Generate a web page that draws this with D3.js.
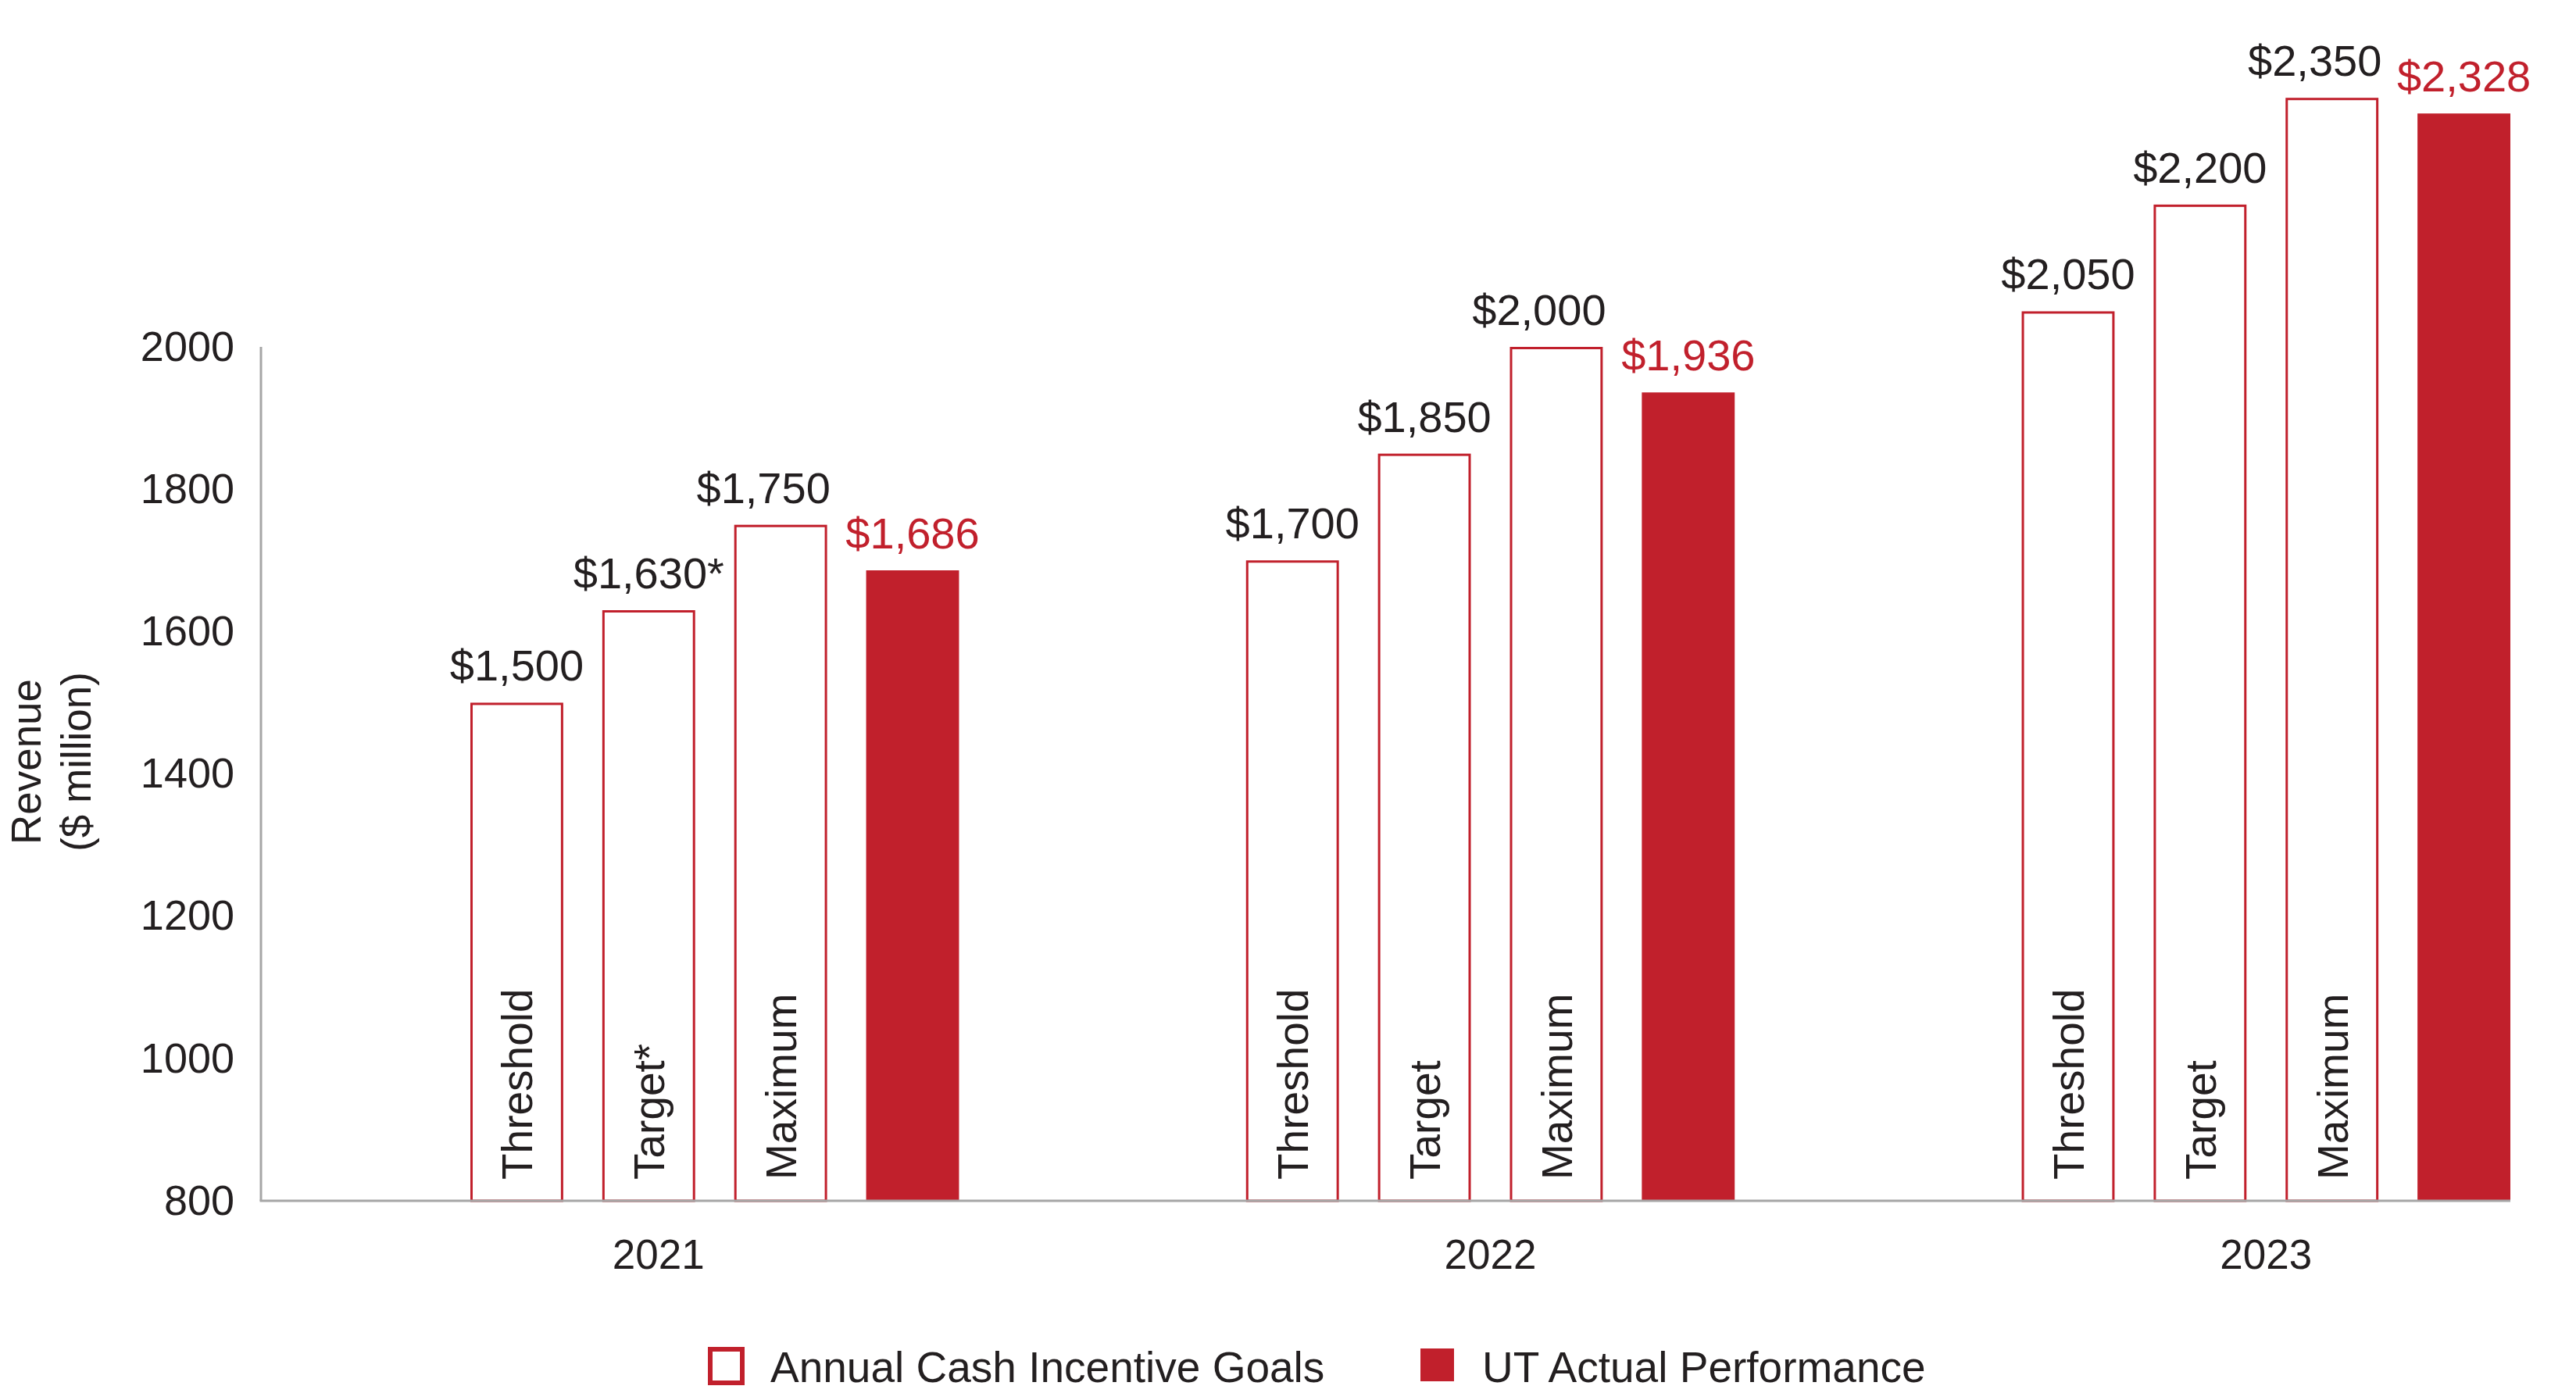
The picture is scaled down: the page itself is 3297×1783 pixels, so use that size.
<!DOCTYPE html>
<html>
<head>
<meta charset="utf-8">
<script src="https://cdn.jsdelivr.net/npm/d3@7"></script>
<style>
  html, body { margin: 0; padding: 0; background: #ffffff; }
  svg { display: block; }
  text { font-family: "Liberation Sans", Arial, Helvetica, sans-serif; }
</style>
</head>
<body>
<svg id="chart" width="3297" height="1783"></svg>
<script>
// ---------- data ----------
const years = ["2021", "2022", "2023"];
const levels = ["Threshold", "Target", "Maximum", "Actual"];
const thresholdValues = [1500, 1700, 2050];
const targetValues = [1630, 1850, 2200];
const maximumValues = [1750, 2000, 2350];
const actualValues = [1686, 1936, 2328];
const targetFootnote = ["*", "", ""];
const yTickValues = [800, 1000, 1200, 1400, 1600, 1800, 2000];
const legendLabels = ["Annual Cash Incentive Goals", "UT Actual Performance"];
const yTitleLines = ["Revenue", "($ million)"];

// ---------- layout / style ----------
const RED = "#c1202c";
const INK = "#231f20";
const AXIS = "#a6a6a6";
const plot = { left: 334, right: 3213, top: 444, bottom: 1537 };
const yearLabelNudge = { "2021": -72 };
const valueLabelShift = { Maximum: -22 };

const svg = d3.select("#chart");

const y = d3.scaleLinear().domain([800, 2000]).range([plot.bottom, plot.top]);
const x0 = d3.scaleBand().domain(years).range([602, plot.right]).paddingInner(0.37).paddingOuter(0);
const x1 = d3.scaleBand().domain(levels).range([0, x0.bandwidth()]).paddingInner(0.296).paddingOuter(0);

const rows = years.map((yr, i) => ({
  year: yr,
  bars: [
    { level: "Threshold", value: thresholdValues[i], label: "Threshold", note: "" },
    { level: "Target", value: targetValues[i], label: "Target" + targetFootnote[i], note: targetFootnote[i] },
    { level: "Maximum", value: maximumValues[i], label: "Maximum", note: "" },
    { level: "Actual", value: actualValues[i], label: "", note: "" }
  ]
}));

const fmt = d3.format(",");

const groups = svg.selectAll("g.year")
  .data(rows).join("g")
  .attr("class", "year")
  .attr("transform", d => `translate(${x0(d.year)},0)`);

const bw = x1.bandwidth();
const sw = 3;

// bars
groups.selectAll("rect.bar")
  .data(d => d.bars).join("rect")
  .attr("class", "bar")
  .attr("x", d => d.level === "Actual" ? x1(d.level) : x1(d.level) + sw / 2)
  .attr("y", d => d.level === "Actual" ? y(d.value) : y(d.value) + sw / 2)
  .attr("width", d => d.level === "Actual" ? bw : bw - sw)
  .attr("height", d => d.level === "Actual" ? plot.bottom - y(d.value) : plot.bottom - y(d.value) - sw / 2)
  .attr("fill", d => d.level === "Actual" ? RED : "#ffffff")
  .attr("stroke", d => d.level === "Actual" ? "none" : RED)
  .attr("stroke-width", sw);

// vertical labels inside bars
groups.selectAll("text.inner")
  .data(d => d.bars.filter(b => b.label)).join("text")
  .attr("class", "inner")
  .attr("transform", d => `translate(${x1(d.level) + bw / 2 + 20},1510) rotate(-90)`)
  .attr("text-anchor", "start")
  .attr("font-size", 55)
  .attr("fill", INK)
  .text(d => d.label);

// value labels
groups.selectAll("text.value")
  .data(d => d.bars).join("text")
  .attr("class", "value")
  .attr("x", d => x1(d.level) + bw / 2 + (valueLabelShift[d.level] || 0))
  .attr("y", d => y(d.value) - 28)
  .attr("text-anchor", "middle")
  .attr("font-size", 56)
  .attr("fill", d => d.level === "Actual" ? RED : INK)
  .text(d => "$" + fmt(d.value) + d.note);

// y axis
const yAxis = d3.axisLeft(y).tickValues(yTickValues).tickSize(0).tickPadding(34).tickFormat(d3.format("d"));
const yg = svg.append("g").attr("transform", `translate(${plot.left},0)`).call(yAxis);
yg.select(".domain").remove();
yg.selectAll("text").attr("font-size", 54).attr("fill", INK)
  .style("font-family", '"Liberation Sans", Arial, Helvetica, sans-serif');

svg.append("line")
  .attr("x1", plot.left).attr("x2", plot.left)
  .attr("y1", y(2000)).attr("y2", plot.bottom)
  .attr("stroke", AXIS).attr("stroke-width", 3);
svg.append("line")
  .attr("x1", plot.left - 1.5).attr("x2", plot.right)
  .attr("y1", plot.bottom).attr("y2", plot.bottom)
  .attr("stroke", AXIS).attr("stroke-width", 3);

// year labels
svg.selectAll("text.yearLabel")
  .data(years).join("text")
  .attr("class", "yearLabel")
  .attr("x", d => x0(d) + x0.bandwidth() / 2 + (yearLabelNudge[d] || 0))
  .attr("y", 1624)
  .attr("text-anchor", "middle")
  .attr("font-size", 53)
  .attr("fill", INK)
  .text(d => d);

// y title
svg.selectAll("text.ytitle")
  .data(yTitleLines).join("text")
  .attr("class", "ytitle")
  .attr("transform", (d, i) => `translate(${52 + i * 64},975) rotate(-90)`)
  .attr("text-anchor", "middle")
  .attr("font-size", 53)
  .attr("fill", INK)
  .text(d => d);

// legend
const lg = svg.append("g");
lg.append("rect").attr("x", 909).attr("y", 1727).attr("width", 41).attr("height", 43)
  .attr("fill", "#ffffff").attr("stroke", RED).attr("stroke-width", 6);
lg.append("text").attr("x", 986).attr("y", 1769).attr("font-size", 55).attr("fill", INK).text(legendLabels[0]);
lg.append("rect").attr("x", 1818).attr("y", 1726).attr("width", 43).attr("height", 42).attr("fill", RED);
lg.append("text").attr("x", 1897).attr("y", 1769).attr("font-size", 55).attr("fill", INK).text(legendLabels[1]);
</script>
</body>
</html>
